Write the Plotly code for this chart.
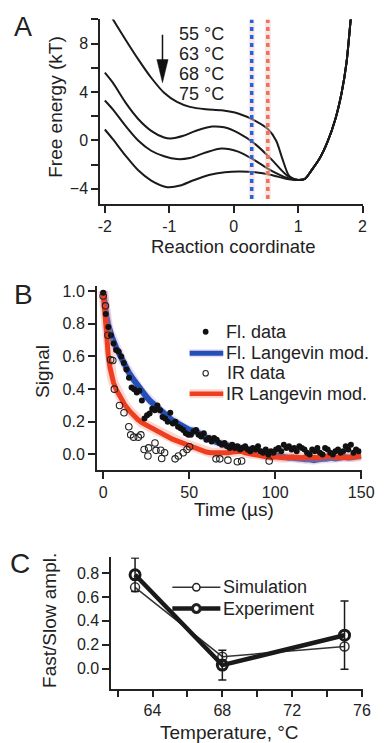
import plotly.graph_objects as go

# The page places the figure 8 px from the window's top-left corner,
# so the figure is sized to the visible area and positions are shifted.
OFF = 8
W, H = 388 - OFF, 743 - OFF
FONT = "Liberation Sans, Arial, sans-serif"
INK = "#222222"

# ---------------- Panel A: free energy profiles ----------------
TEMP_LABELS = ["55 °C", "63 °C", "68 °C", "75 °C"]
X_55 = [-1.95, -1.876, -1.678, -1.478, -1.28, -1.08, -0.88, -0.68, -0.435, -0.187, 0.07, 0.335, 0.534, 0.66, 0.758, 0.857, 0.956]
G_55 = [10.67, 10.03, 8.33, 6.68, 5.18, 3.94, 3.18, 2.77, 2.57, 2.49, 2.22, 1.61, 0.92, -0.03, -1.55, -2.91, -3.24]
X_63 = [-2.0, -1.876, -1.678, -1.478, -1.28, -1.08, -0.98, -0.78, -0.584, -0.336, -0.15, 0.07, 0.335, 0.583, 0.832]
G_63 = [5.6, 4.77, 3.12, 1.75, 0.79, 0.24, 0.16, 0.38, 0.79, 1.14, 1.08, 0.62, -0.31, -1.55, -2.91]
X_68 = [-2.0, -1.876, -1.678, -1.478, -1.28, -1.08, -0.88, -0.68, -0.435, -0.187, 0.07, 0.335, 0.583, 0.832]
G_68 = [3.3, 2.57, 1.2, -0.03, -0.86, -1.32, -1.55, -1.46, -1.0, -0.67, -0.93, -1.68, -2.5, -3.11]
X_75 = [-2.0, -1.876, -1.678, -1.478, -1.28, -1.03, -0.83, -0.634, -0.385, -0.137, 0.087, 0.335, 0.583, 0.832]
G_75 = [0.9, 0.1, -1.27, -2.5, -3.32, -3.87, -3.74, -3.32, -2.86, -2.64, -2.58, -2.64, -2.86, -3.2]
RIGHT_X = [1.005, 1.105, 1.205, 1.329, 1.453, 1.578, 1.676, 1.751, 1.816, 1.84]
RIGHT_G = [-3.28, -3.19, -2.5, -1.55, -0.17, 1.75, 3.94, 6.41, 9.97, 11.2]
MARK_X = [0.28, 0.53]          # dotted vertical markers (blue, red)
MARK_COLORS = ["#2164d2", "#f2704e"]
MARK_G = [-4.85, 10.0]

# ---------------- Panel B: relaxation kinetics ----------------
FL_T = [0, 1.5, 3, 4.5, 6, 7.5, 9, 10.5, 12, 13.5, 15, 16.5, 18, 19.5, 21, 22.5, 24, 25.5, 27, 28.5,
        30, 31.5, 33, 34.5, 36, 37.5, 39, 40.5, 42, 43.5, 45, 46.5, 48, 49.5, 51, 52.5, 54, 55.5, 57, 58.5,
        60, 61.5, 63, 64.5, 66, 67.5, 69, 70.5, 72, 73.5, 75, 76.5, 78, 79.5, 81, 82.5, 84, 85.5, 87, 88.5,
        90, 91.5, 93, 94.5, 96, 97.5, 99, 100.5, 102, 103.5, 105, 106.5, 108, 109.5, 111, 112.5, 114, 115.5, 117, 118.5,
        120, 121.5, 123, 124.5, 126, 127.5, 129, 130.5, 132, 133.5, 135, 136.5, 138, 139.5, 141, 142.5, 144, 145.5, 147, 148.5]
FL_DATA = [0.99, 0.86, 0.78, 0.73, 0.68, 0.64, 0.63, 0.60, 0.56, 0.52, 0.47, 0.41, 0.40, 0.38, 0.39, 0.33, 0.22, 0.24, 0.25, 0.28,
           0.27, 0.30, 0.27, 0.23, 0.22, 0.20, 0.255, 0.19, 0.20, 0.17, 0.16, 0.15, 0.13, 0.12, 0.12, 0.14, 0.15, 0.12, 0.11, 0.13,
           0.09, 0.10, 0.08, 0.10, 0.09, 0.07, 0.06, 0.07, 0.05, 0.04, 0.06, 0.04, 0.05, 0.03, 0.04, 0.05, 0.03, 0.02, 0.04, 0.03,
           0.05, 0.02, 0.01, 0.03, 0.00, 0.02, 0.01, 0.03, 0.04, 0.02, 0.06, 0.04, 0.05, 0.03, 0.04, 0.02, 0.05, 0.04, 0.03, 0.01,
           0.00, 0.03, 0.02, 0.04, 0.01, 0.00, 0.04, 0.03, 0.01, 0.00, 0.02, 0.03, 0.01, 0.02, 0.05, 0.03, 0.06, 0.01, 0.03, 0.02]
IR_T = [0, 1.3, 2.8, 4.3, 5.6, 6.5, 9.5, 12.1, 14.9, 16.0, 17.7, 20.4, 21.9, 23.8, 26.0, 26.4, 30.1, 30.7, 33.5, 34.0,
        35.7, 41.8, 43.7, 46.5, 48.7, 50.2, 65.6, 67.8, 72.5, 78.0, 80.5, 96.5]
IR_DATA = [0.97, 0.91, 0.73, 0.58, 0.575, 0.40, 0.30, 0.255, 0.17, 0.12, 0.106, 0.106, 0.12, 0.03, -0.01, 0.04, 0.07, 0.025, 0.026, -0.025,
           0.01, -0.027, -0.01, 0.01, 0.03, 0.047, -0.027, -0.027, -0.035, -0.045, -0.04, -0.04]
FL_MODEL_T = [0, 0.5, 1, 2, 3, 4, 5, 7.5, 10, 12.5, 15, 17.5, 20, 22.5, 25, 27.5, 30, 32.5, 35, 37.5,
              40, 42.5, 45, 47.5, 50, 52.5, 55, 57.5, 60, 62.5, 65, 67.5, 70, 72.5, 75, 77.5, 80, 82.5, 85, 87.5,
              90, 92.5, 95, 97.5, 100, 102.5, 105, 107.5, 110, 112.5, 115, 117.5, 120, 122.5, 125, 127.5, 130, 132.5, 135, 137.5,
              140, 142.5, 145, 147.5, 150]
FL_MODEL = [1.0, 0.95, 0.90, 0.84, 0.79, 0.75, 0.72, 0.655, 0.60, 0.55, 0.50, 0.46, 0.42, 0.385, 0.355, 0.325, 0.30, 0.275, 0.25, 0.23,
            0.21, 0.195, 0.18, 0.16, 0.15, 0.145, 0.135, 0.115, 0.10, 0.09, 0.08, 0.07, 0.06, 0.055, 0.05, 0.045, 0.045, 0.04, 0.035, 0.03,
            0.025, 0.015, 0.005, 0.0, -0.01, -0.01, -0.015, -0.02, -0.02, -0.025, -0.03, -0.03, -0.03, -0.035, -0.03, -0.03, -0.025, -0.02, -0.025, -0.02,
            -0.015, -0.02, -0.015, -0.01, -0.01]
IR_MODEL_T = [0, 0.5, 1, 1.5, 2, 3, 4, 5, 6, 7.5, 10, 12.5, 15, 17.5, 20, 22.5, 25, 27.5, 30, 32.5,
              35, 37.5, 40, 42.5, 45, 47.5, 50, 52.5, 55, 57.5, 60, 62.5, 65, 67.5, 70, 72.5, 75, 77.5, 80, 82.5,
              85, 87.5, 90, 92.5, 95, 97.5, 100, 105, 110, 115, 120, 125, 130, 135, 140, 145, 150]
IR_MODEL = [1.0, 0.93, 0.85, 0.77, 0.70, 0.60, 0.53, 0.48, 0.44, 0.40, 0.345, 0.305, 0.27, 0.24, 0.215, 0.195, 0.18, 0.165, 0.15, 0.135,
            0.12, 0.105, 0.095, 0.085, 0.075, 0.065, 0.055, 0.045, 0.03, 0.02, 0.015, 0.01, 0.01, 0.005, 0.005, 0.01, 0.015, 0.02, 0.02, 0.01,
            0.005, 0.0, -0.005, -0.01, -0.015, -0.02, -0.015, -0.02, -0.015, -0.02, -0.015, -0.02, -0.01, -0.015, -0.02, -0.015, -0.01]

# ---------------- Panel C: amplitude ratio ----------------
TEMPS_C = [63, 68, 75]
SIM = [0.68, 0.10, 0.185]
EXP = [0.785, 0.03, 0.28]
EXP_ERR = [0.14, 0.125, 0.285]

BLUE = "#2350b8"
RED = "#ef3d20"

fig = go.Figure()

# Panel A curves
for xs, gs in [(X_55, G_55), (X_63, G_63), (X_68, G_68), (X_75, G_75)]:
    fig.add_trace(go.Scatter(x=xs + RIGHT_X, y=gs + RIGHT_G, mode="lines",
                             line=dict(color="#1a1a1a", width=2, shape="spline", smoothing=0.8),
                             xaxis="x", yaxis="y", showlegend=False, hoverinfo="skip"))
for mx, mc in zip(MARK_X, MARK_COLORS):
    fig.add_trace(go.Scatter(x=[mx, mx], y=MARK_G, mode="lines",
                             line=dict(color="rgba(240,200,215,0.45)", width=6),
                             xaxis="x", yaxis="y", showlegend=False, hoverinfo="skip"))
    fig.add_trace(go.Scatter(x=[mx, mx], y=MARK_G, mode="lines",
                             line=dict(color=mc, width=3.5, dash="4px,4px"),
                             xaxis="x", yaxis="y", showlegend=False, hoverinfo="skip"))

# Panel B
fig.add_trace(go.Scatter(x=FL_MODEL_T, y=FL_MODEL, mode="lines",
                         line=dict(color="rgba(190,140,210,0.3)", width=9),
                         xaxis="x2", yaxis="y2", showlegend=False, hoverinfo="skip"))
fig.add_trace(go.Scatter(x=FL_MODEL_T, y=FL_MODEL, mode="lines",
                         line=dict(color=BLUE, width=6),
                         xaxis="x2", yaxis="y2", showlegend=False, hoverinfo="skip"))
fig.add_trace(go.Scatter(x=IR_MODEL_T, y=IR_MODEL, mode="lines",
                         line=dict(color="rgba(248,140,120,0.35)", width=10),
                         xaxis="x2", yaxis="y2", showlegend=False, hoverinfo="skip"))
fig.add_trace(go.Scatter(x=IR_MODEL_T, y=IR_MODEL, mode="lines",
                         line=dict(color=RED, width=5),
                         xaxis="x2", yaxis="y2", showlegend=False, hoverinfo="skip"))
fig.add_trace(go.Scatter(x=FL_T, y=FL_DATA, mode="markers",
                         marker=dict(color="#111111", size=6, line=dict(width=0)),
                         xaxis="x2", yaxis="y2", showlegend=False, hoverinfo="skip"))
fig.add_trace(go.Scatter(x=IR_T, y=IR_DATA, mode="markers",
                         marker=dict(color="#222222", size=6.5, symbol="circle-open", line=dict(width=1.1)),
                         xaxis="x2", yaxis="y2", showlegend=False, hoverinfo="skip"))

# Panel C
fig.add_trace(go.Scatter(x=TEMPS_C, y=SIM, mode="lines+markers",
                         line=dict(color="#333333", width=1.5),
                         marker=dict(symbol="circle-open", size=9, color="#333333", line=dict(width=1.5)),
                         xaxis="x3", yaxis="y3", showlegend=False, hoverinfo="skip"))
fig.add_trace(go.Scatter(x=TEMPS_C, y=EXP, mode="lines+markers",
                         line=dict(color="#1a1a1a", width=4.5),
                         marker=dict(symbol="circle-open", size=10, color="#1a1a1a", line=dict(width=3)),
                         error_y=dict(type="data", array=EXP_ERR, color="#1a1a1a", thickness=1.5, width=4),
                         xaxis="x3", yaxis="y3", showlegend=False, hoverinfo="skip"))


def px(x):
    return (x - OFF) / W


def py(y):
    return 1 - (y - OFF) / H


TICK = 16
axis_common = dict(showline=True, linecolor=INK, linewidth=1.5, ticks="outside", ticklen=7,
                   tickwidth=1.5, tickcolor=INK, showgrid=False, zeroline=False,
                   tickfont=dict(family=FONT, size=TICK, color=INK))
minor_ticks = dict(ticks="outside", ticklen=7, tickwidth=1.5, tickcolor=INK, showgrid=False)

layout = dict(
    width=W, height=H, margin=dict(l=0, r=0, t=0, b=0),
    paper_bgcolor="white", plot_bgcolor="white", showlegend=False,
    font=dict(family=FONT, color=INK),
    xaxis=dict(domain=[px(101.7), px(375)], range=[-2.075, 2.0], anchor="y",
               tickmode="array", tickvals=[-2, -1, 0, 1, 2], ticktext=["-2", "-1", "0", "1", "2"], **axis_common),
    yaxis=dict(domain=[py(202), py(16.5)], range=[-5.28, 10.0], anchor="x",
               tick0=0, dtick=4, tickformat="d", minor=dict(dtick=2, **minor_ticks), **axis_common),
    xaxis2=dict(domain=[px(98.3), px(374)], range=[-3.75, 150.2], anchor="y2",
                tick0=0, dtick=50, **axis_common),
    yaxis2=dict(domain=[py(469), py(284.4)], range=[-0.096, 1.03], anchor="x2",
                tick0=0, dtick=0.2, tickformat=".1f", **axis_common),
    xaxis3=dict(domain=[px(113.3), px(375)], range=[61.63, 76.03], anchor="y3",
                tick0=64, dtick=4, minor=dict(dtick=2, **minor_ticks), **axis_common),
    yaxis3=dict(domain=[py(688.3), py(556.7)], range=[-0.166, 0.93], anchor="x3",
                tick0=0, dtick=0.2, tickformat=".1f", **axis_common),
)
fig.update_layout(**layout)

ann = []


def text(x, y, s, size=18, xanchor="center", angle=0):
    ann.append(dict(x=px(x), y=py(y), xref="paper", yref="paper", text=s, showarrow=False,
                    xanchor=xanchor, yanchor="middle", textangle=angle,
                    font=dict(family=FONT, size=size, color=INK)))


TITLE = 19
# panel letters
text(22, 24, "A", 27)
text(22, 293, "B", 28)
text(18, 563, "C", 28)
# axis titles
text(240.7, 244, "Reaction coordinate", 18.5)
text(55, 105, "Free energy (kT)", TITLE, angle=-90)
text(240.7, 509, "Time (µs)", TITLE)
text(41.7, 370, "Signal", TITLE, angle=-90)
text(236.5, 732, "Temperature, °C", TITLE)
text(49, 620, "Fast/Slow ampl.", TITLE, angle=-90)
# temperature labels
for lbl, yy in zip(TEMP_LABELS, [30.7, 50.7, 71.2, 91.7]):
    text(182, yy, lbl, 18, xanchor="left")
# legend B
text(231, 330, "Fl. data", 18, xanchor="left")
text(231, 351.7, "Fl. Langevin mod.", 18, xanchor="left")
text(232, 371.7, "IR data", 18, xanchor="left")
text(231, 392.3, "IR Langevin mod.", 18, xanchor="left")
# legend C
text(228, 586.7, "Simulation", 18, xanchor="left")
text(228, 608, "Experiment", 18, xanchor="left")
fig.update_layout(annotations=ann)

shapes = []


def circle(cx, cy, r, fill, lw):
    shapes.append(dict(type="circle", xref="paper", yref="paper",
                       x0=px(cx - r), x1=px(cx + r), y0=py(cy + r), y1=py(cy - r),
                       fillcolor=fill, line=dict(color="#222222", width=lw)))


def hline(x0, x1, y, color, width):
    shapes.append(dict(type="line", xref="paper", yref="paper", x0=px(x0), x1=px(x1),
                       y0=py(y), y1=py(y), line=dict(color=color, width=width)))


# legend B samples
circle(211.7, 330, 3, "#111111", 0)
hline(195, 230, 351.7, "rgba(190,140,210,0.3)", 8)
hline(195, 230, 351.7, BLUE, 5)
circle(211.7, 371.7, 2.8, "white", 1.1)
hline(195, 230, 392.3, "rgba(248,140,120,0.35)", 9)
hline(195, 230, 392.3, RED, 4.5)
# legend C samples
hline(177, 227, 586.7, "#333333", 1.5)
circle(202, 586.7, 3.8, "white", 1.5)
hline(177, 227, 608, "#1a1a1a", 4.5)
circle(202, 608, 4, "white", 3)
# arrow in panel A
shapes.append(dict(type="line", xref="x", yref="y", x0=-1.105, x1=-1.105, y0=8.74, y1=6.4,
                   line=dict(color="#111111", width=1.5)))
shapes.append(dict(type="path", xref="x", yref="y",
                   path="M -1.192,6.68 L -1.105,4.77 L -1.018,6.68 Z",
                   fillcolor="#111111", line=dict(color="#111111", width=0.5)))
fig.update_layout(shapes=shapes)

fig.write_html("out.html")
